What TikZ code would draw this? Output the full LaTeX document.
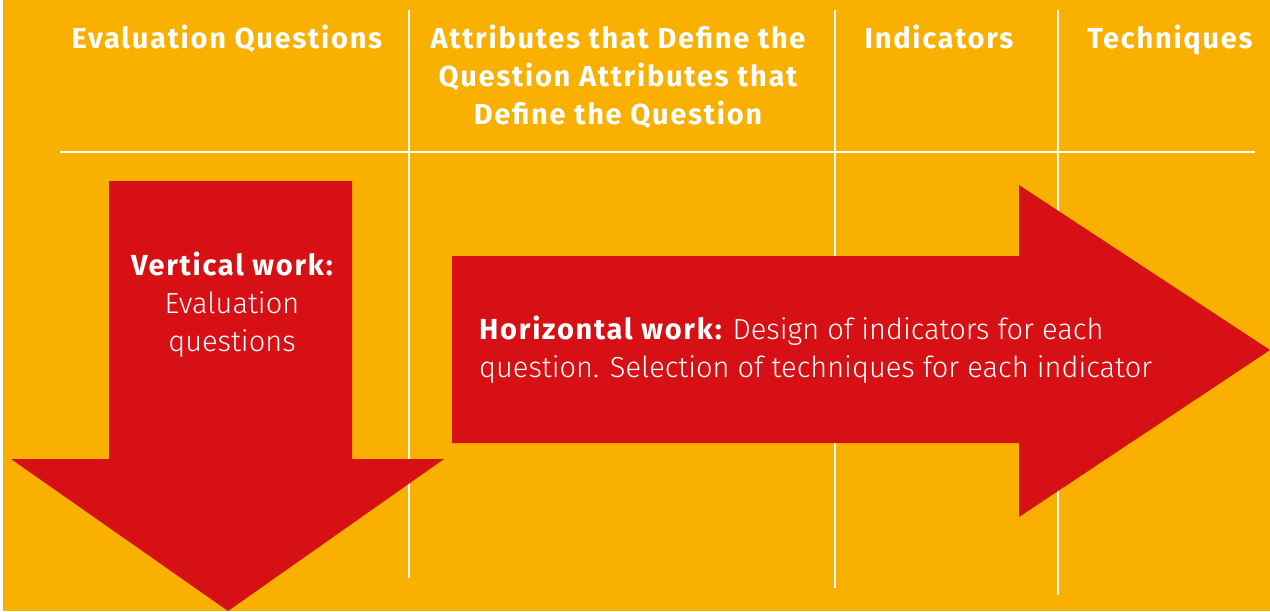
\documentclass[tikz,border=0pt]{standalone}
\usepackage{fontspec}
\setmainfont{Fira Sans}
\newfontfamily\lightfont{Fira Sans Light}
\newfontfamily\widebold[LetterSpace=6]{Fira Sans}
\newcommand{\bw}[1]{{\widebold\bfseries #1}}
\definecolor{bgorange}{RGB}{249,176,0}
\definecolor{arrowred}{RGB}{215,16,22}
\tikzset{
  grid line/.style={draw=white, line width=2pt},
  arrowshape/.style={fill=arrowred, draw=none},
  headtext/.style={text=white, font=\fontsize{29}{38}\selectfont\widebold\bfseries, align=center, inner sep=0pt},
  bodytext/.style={text=white, font=\fontsize{29}{38}\selectfont\lightfont, inner sep=0pt},
}
\begin{document}
\begin{tikzpicture}[x=1pt, y=-1pt]
\useasboundingbox (0,0) rectangle (1270,611);
\fill[white] (0,0) rectangle (1270,611);
\fill[bgorange] (3,0) rectangle (1270,611);
% grid
\coordinate (h1) at (60,152);
\coordinate (h2) at (1255,152);
\coordinate (v1t) at (409,10);
\coordinate (v1b) at (409,578);
\coordinate (v2t) at (835,10);
\coordinate (v2b) at (835,588);
\coordinate (v3t) at (1058,10);
\coordinate (v3b) at (1058,595);
\draw[grid line] (h1) -- (h2);
\draw[grid line] (v1t) -- (v1b);
\draw[grid line] (v2t) -- (v2b);
\draw[grid line] (v3t) -- (v3b);
% headers
\node[headtext, anchor=base] (hq) at (227,48) {Evaluation Questions};
\node[headtext, anchor=base] (ha) at (618,124) {Attributes that Define the\\Question Attributes that\\Define the Question};
\node[headtext, anchor=base] (hi) at (939,48) {Indicators};
\node[headtext, anchor=base] (ht) at (1170,48) {Techniques};
% down arrow
\path[arrowshape] (109,181) -- (352,181) -- (352,459) -- (444,459) -- (228,611) -- (11,459) -- (109,459) -- cycle;
% right arrow
\path[arrowshape] (452,256) -- (1019,256) -- (1019,185) -- (1270,350) -- (1019,517) -- (1019,443) -- (452,443) -- cycle;
% arrow texts
\node[bodytext, align=center, anchor=base] (vt) at (232,351) {\bw{Vertical work:}\\Evaluation\\questions};
\node[bodytext, align=left, anchor=base west] (ht2) at (479,377) {\bw{Horizontal work:} Design of indicators for each\\question. Selection of techniques for each indicator};
\end{tikzpicture}
\end{document}
